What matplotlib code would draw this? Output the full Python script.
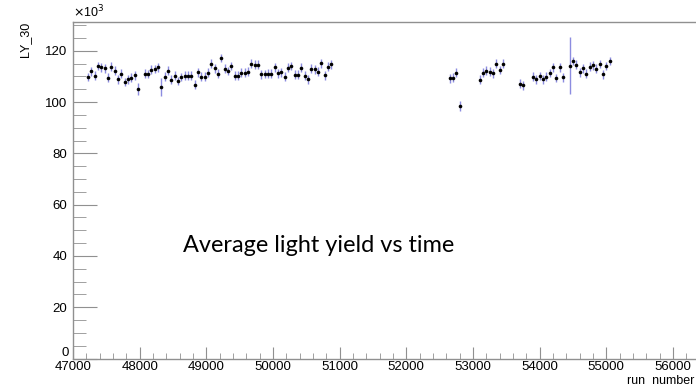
import numpy as np
import matplotlib
matplotlib.use('Agg')
import matplotlib.pyplot as plt
from matplotlib.ticker import MultipleLocator, FuncFormatter

# light yield per run bin (x10^3)
runs_a = [47225, 47275, 47325, 47375, 47425, 47475, 47525, 47575, 47625, 47675,
          47725, 47775, 47825, 47875, 47925, 47975, 48075, 48125, 48175, 48225,
          48275, 48325, 48375, 48425, 48475, 48525, 48575, 48625, 48675, 48725,
          48775, 48825, 48875, 48925, 48975, 49025, 49075, 49125, 49175, 49225,
          49275, 49325, 49375, 49425, 49475, 49525, 49575, 49625, 49675, 49725,
          49775, 49825, 49875, 49925, 49975, 50025, 50075, 50125, 50175, 50225,
          50275, 50325, 50375, 50425, 50475, 50525, 50575, 50625, 50675, 50725,
          50775, 50825, 50875]
ly_a = [109.8, 112.0, 110.3, 114.0, 113.6, 113.2, 109.5, 113.8, 112.2, 108.9,
        111.1, 107.8, 108.9, 109.5, 110.4, 105.2, 111.1, 110.9, 112.6, 112.9,
        113.6, 105.8, 109.9, 112.2, 108.7, 110.3, 108.2, 109.8, 110.3, 110.3,
        110.3, 106.7, 111.6, 109.9, 109.9, 111.5, 115.0, 113.2, 111.1, 117.2,
        113.0, 112.1, 114.1, 110.3, 110.3, 111.5, 111.5, 111.9, 115.0, 114.6,
        114.5, 110.8, 110.9, 111.1, 111.1, 113.6, 111.2, 111.6, 109.9, 113.4,
        114.1, 110.6, 110.6, 113.4, 110.3, 108.9, 113.0, 112.8, 111.9, 115.1,
        110.4, 113.8, 114.7]

runs_b = [52650, 52700, 52750, 52800, 53100, 53150, 53200, 53250, 53300, 53350,
          53400, 53450, 53700, 53750, 53900, 53950, 54000, 54050, 54100, 54150,
          54200, 54250, 54300, 54350, 54450, 54500, 54550, 54600, 54650, 54700,
          54750, 54800, 54850, 54900, 54950, 55000, 55050]
ly_b = [109.3, 109.5, 111.5, 98.5, 108.7, 111.5, 112.2, 111.8, 111.2, 115.0,
        112.5, 114.9, 107.1, 106.5, 109.9, 108.9, 110.2, 108.9, 109.9, 111.3,
        113.6, 109.4, 113.6, 109.7, 114.1, 116.0, 114.6, 111.6, 113.2, 111.0,
        113.8, 114.3, 113.0, 114.8, 110.8, 114.0, 116.0]

# errors: mostly ~1.7, a few larger ones
big_err = {47975: 2.4, 48325: 3.6, 52800: 2.0, 54450: 11.1}

runs = np.array(runs_a + runs_b)
ly = np.array(ly_a + ly_b)
err = np.array([big_err.get(r, 1.7) for r in runs])

plt.rcParams['font.family'] = ['Liberation Sans', 'DejaVu Sans']

fig = plt.figure(figsize=(6.96, 3.86), dpi=100)
ax = fig.add_axes([73 / 696, 27.4 / 386, 623 / 696, 336.6 / 386])

ax.errorbar(runs, ly, yerr=err, fmt='o', color='black', ms=2.6, mew=0,
            ecolor='#8c8ce0', elinewidth=1, capsize=0)

ax.set_xlim(47000, 47000 + 623 * 15)
ax.set_ylim(0, 131.2)

grey = '#909090'
for s in ['left', 'bottom', 'top']:
    ax.spines[s].set_color(grey)
    ax.spines[s].set_linewidth(1)
ax.spines['right'].set_visible(False)

ax.xaxis.set_major_locator(MultipleLocator(1000))
ax.xaxis.set_minor_locator(MultipleLocator(200))
ax.yaxis.set_major_locator(MultipleLocator(20))
ax.yaxis.set_minor_locator(MultipleLocator(5))
ax.tick_params(axis='x', which='major', direction='in', length=9, color=grey,
               labelsize=9.5, pad=2, top=False)
ax.tick_params(axis='x', which='minor', direction='in', length=4, color=grey, top=False)
ax.tick_params(axis='y', which='major', direction='in', length=17, color=grey,
               labelsize=9.5, pad=4, right=False)
ax.tick_params(axis='y', which='minor', direction='in', length=9, color=grey, right=False)
ax.yaxis.set_major_formatter(FuncFormatter(lambda v, p: '' if v == 0 else '%d' % v))

fig.text(69 / 696, 1 - 353 / 386, '0', ha='right', va='center', fontsize=9.5)
fig.text(73 / 696, 1 - 12 / 386, r'$\times$10$^{3}$', ha='left', va='center', fontsize=9)
fig.text(25 / 696, 1 - 22 / 386, 'LY_30', rotation=90, ha='center', va='top', fontsize=9)
fig.text(694 / 696, 1 - 381 / 386, 'run  number', ha='right', va='center', fontsize=9)
fig.text(183 / 696, 1 - 245 / 386, 'Average light yield vs time', ha='left',
         va='center', fontsize=16.9, family=['Lato', 'DejaVu Sans'])

fig.savefig('out.png', dpi=100)
